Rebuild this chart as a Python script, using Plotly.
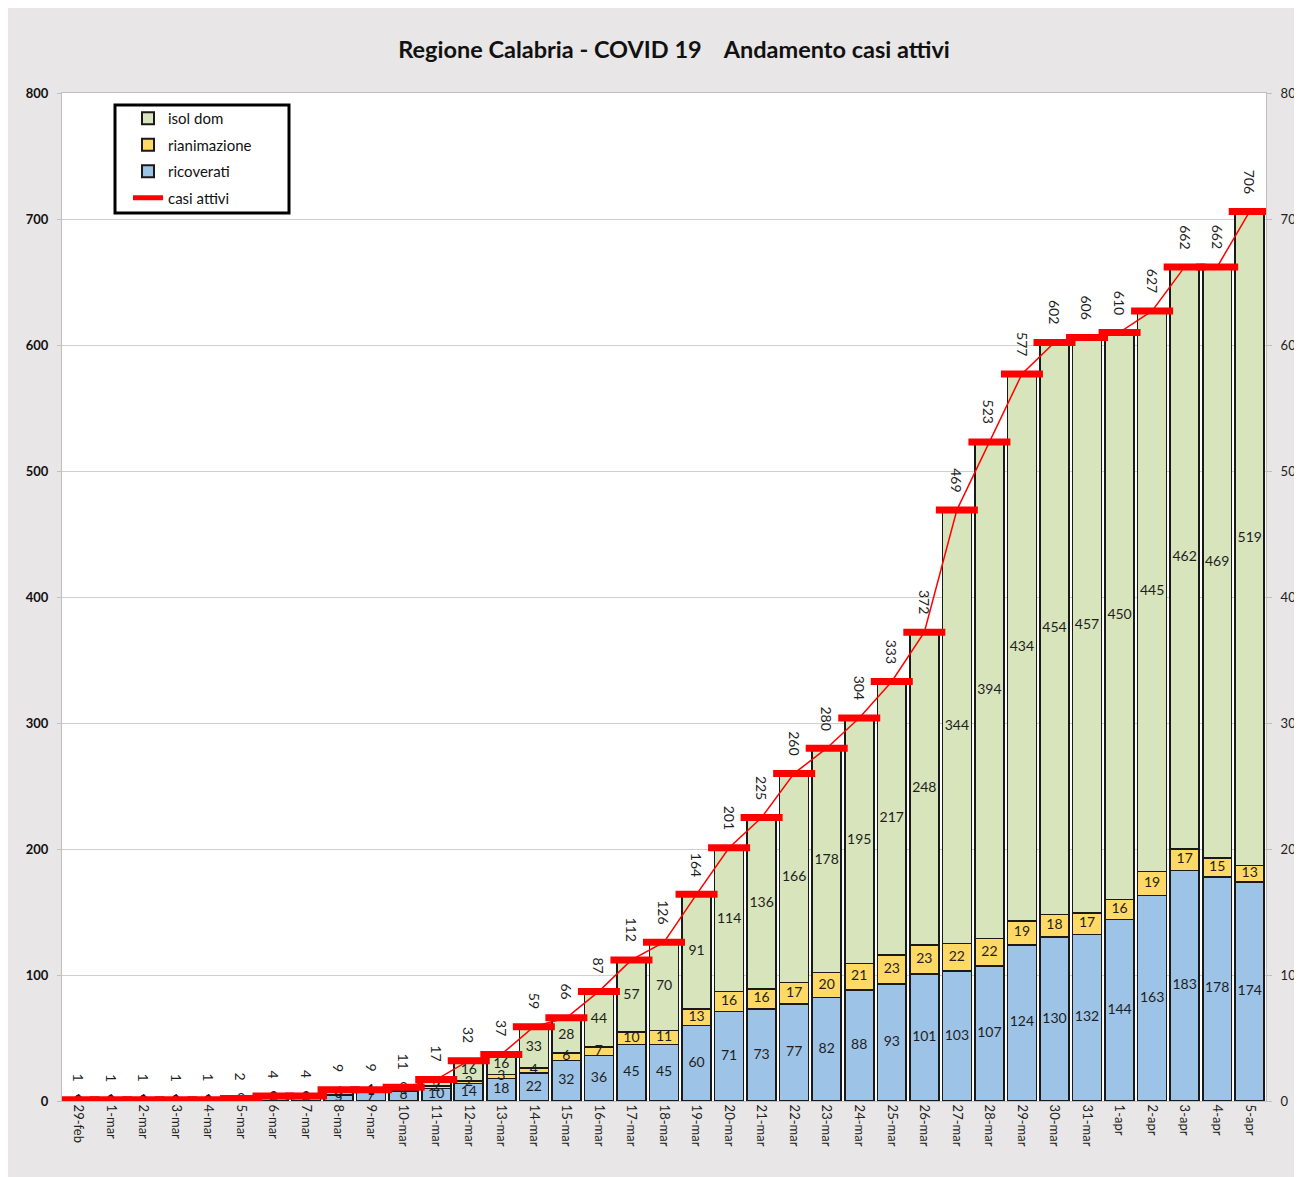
import plotly.graph_objects as go

dates = ["29-feb", "1-mar", "2-mar", "3-mar", "4-mar", "5-mar", "6-mar", "7-mar", "8-mar", "9-mar",
         "10-mar", "11-mar", "12-mar", "13-mar", "14-mar", "15-mar", "16-mar", "17-mar", "18-mar",
         "19-mar", "20-mar", "21-mar", "22-mar", "23-mar", "24-mar", "25-mar", "26-mar", "27-mar",
         "28-mar", "29-mar", "30-mar", "31-mar", "1-apr", "2-apr", "3-apr", "4-apr", "5-apr"]
ricoverati = [0, 0, 0, 0, 0, 0, 2, 2, 5, 7, 8, 10, 14, 18, 22, 32, 36, 45, 45, 60, 71, 73, 77, 82,
              88, 93, 101, 103, 107, 124, 130, 132, 144, 163, 183, 178, 174]
rianimazione = [0, 0, 0, 0, 0, 0, 0, 0, 0, 1, 1, 2, 2, 3, 4, 6, 7, 10, 11, 13, 16, 16, 17, 20,
                21, 23, 23, 22, 22, 19, 18, 17, 16, 19, 17, 15, 13]
isol_dom = [1, 1, 1, 1, 1, 2, 2, 2, 4, 1, 2, 5, 16, 16, 33, 28, 44, 57, 70, 91, 114, 136, 166, 178,
            195, 217, 248, 344, 394, 434, 454, 457, 450, 445, 462, 469, 519]
casi_attivi = [1, 1, 1, 1, 1, 2, 4, 4, 9, 9, 11, 17, 32, 37, 59, 66, 87, 112, 126, 164, 201, 225,
               260, 280, 304, 333, 372, 469, 523, 577, 602, 606, 610, 627, 662, 662, 706]
y_ticks = [0, 100, 200, 300, 400, 500, 600, 700, 800]

FONT = "Lato, Carlito, Calibri, sans-serif"
BLUE = "#9dc3e6"
GOLD = "#ffd966"
GREEN = "#d8e4bc"
GREY_BG = "#e8e6e6"

# figure is placed at (8, 8) in the page by the default body margin
W, H = 1294, 1169
L = 62 - 8
T = 93 - 8
R = 8 + W - 1266
B = 8 + H - 1101
pw, ph = W - L - R, H - T - B


def px_x(page_x):
    return (page_x - 8 - L) / pw


def px_y(page_y):
    return (H - B - (page_y - 8)) / ph


fig = go.Figure()
bar_line = dict(color="#1a1a1a", width=1.6)
fig.add_trace(go.Bar(x=dates, y=ricoverati, name="ricoverati", marker=dict(color=BLUE, line=bar_line),
                     legendrank=3, legendgroup="c"))
fig.add_trace(go.Bar(x=dates, y=rianimazione, name="rianimazione", marker=dict(color=GOLD, line=bar_line),
                     legendrank=2, legendgroup="b"))
fig.add_trace(go.Bar(x=dates, y=isol_dom, name="isol dom", marker=dict(color=GREEN, line=bar_line),
                     legendrank=1, legendgroup="a"))

# segment labels at midpoints of each stacked segment
lab_x, lab_y, lab_t = [], [], []
for i, d in enumerate(dates):
    r, a, s = ricoverati[i], rianimazione[i], isol_dom[i]
    lab_x += [d, d, d]
    lab_y += [r / 2, r + a / 2, r + a + s / 2]
    lab_t += [str(r), str(a), str(s)]
fig.add_trace(go.Scatter(x=lab_x, y=lab_y, text=lab_t, mode="text",
                         textfont=dict(family=FONT, size=14, color="#1e1e1e"),
                         showlegend=False, hoverinfo="skip"))

fig.add_trace(go.Scatter(x=dates, y=casi_attivi, name="casi attivi", mode="lines+markers",
                         line=dict(color="#ff0000", width=1.5),
                         marker=dict(symbol="line-ew", size=30, color="#ff0000",
                                     line=dict(color="#ff0000", width=7)),
                         yaxis="y2", legendrank=4, legendgroup="d"))

for d, v in zip(dates, casi_attivi):
    fig.add_annotation(x=d, y=v, text=str(v), showarrow=False, textangle=90,
                       yanchor="bottom", yshift=16, font=dict(family=FONT, size=14, color="#1e1e1e"))

# legend box
fig.add_shape(type="rect", xref="paper", yref="paper", layer="below",
              x0=px_x(115), x1=px_x(289), y0=px_y(213), y1=px_y(105),
              fillcolor="white", line=dict(color="black", width=3))

fig.update_layout(
    width=W, height=H,
    margin=dict(l=L, r=R, t=T, b=B, autoexpand=False),
    barmode="stack", bargap=0.11,
    paper_bgcolor=GREY_BG, plot_bgcolor="white",
    font=dict(family=FONT, size=13, color="#111"),
    title=dict(text="Regione Calabria - COVID 19\u00a0\u00a0\u00a0\u00a0Andamento casi attivi",
               x=(674 - 8) / W, xanchor="center", y=1 - 42 / H, yanchor="middle", yref="container",
               font=dict(family=FONT, size=23.5, color="#111", weight="bold")),
    legend=dict(x=px_x(128), y=px_y(102), xanchor="left", yanchor="top",
                traceorder="grouped", bgcolor="rgba(0,0,0,0)", borderwidth=0,
                font=dict(family=FONT, size=15, color="#111"), tracegroupgap=4,
                itemsizing="constant", itemwidth=30),
    xaxis=dict(type="category", range=[-0.5, len(dates) - 0.5], tickangle=90, showgrid=False,
               showline=True, linecolor="#bfbfbf", mirror=True, ticks="", automargin=False,
               tickfont=dict(family=FONT, size=13, color="#222")),
    yaxis=dict(range=[0, 800], tickvals=y_ticks, showgrid=True, gridcolor="#cfcfcf", gridwidth=1,
               showline=True, linecolor="#bfbfbf", mirror=True, ticks="outside", ticklen=4,
               tickcolor="#bfbfbf", zeroline=False, ticklabelstandoff=6, automargin=False,
               tickfont=dict(family=FONT, size=13, color="#111", weight="bold")),
    yaxis2=dict(range=[0, 800], tickvals=y_ticks, overlaying="y", side="right", showgrid=False,
                ticks="outside", ticklen=5, tickcolor="#bfbfbf", zeroline=False, showline=False,
                ticklabelstandoff=6, automargin=False,
                tickfont=dict(family=FONT, size=13, color="#222")),
    hovermode=False,
)

fig.write_html("out.html")
